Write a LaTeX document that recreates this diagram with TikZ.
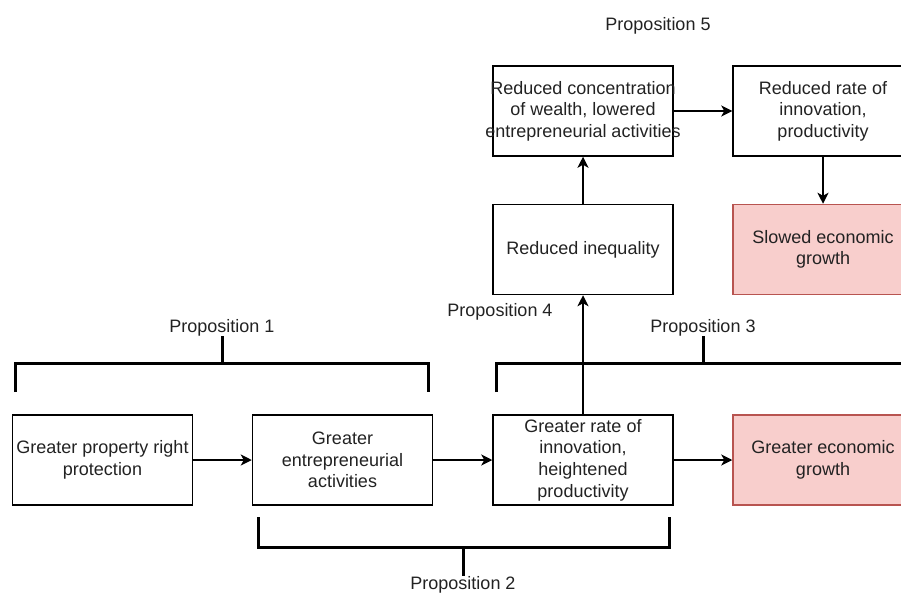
\documentclass[tikz,border=0pt]{standalone}
\usepackage{fontspec}
\setmainfont{Liberation Sans}
\usetikzlibrary{arrows.meta}
\definecolor{pinkfill}{HTML}{F8CECC}
\definecolor{pinkdraw}{HTML}{B85450}
\definecolor{txt}{HTML}{222222}
\begin{document}
\begin{tikzpicture}[x=1pt,y=-1pt,
  box/.style={draw=black,line width=1.5pt,minimum width=180pt,minimum height=90pt,inner sep=2pt,align=center,font=\fontsize{18}{21.6}\selectfont,text=txt},
  pinkbox/.style={box,draw=pinkdraw,fill=pinkfill},
  arr/.style={line width=1.5pt,-{Stealth[length=11pt,width=11pt,inset=3pt]}},
  brack/.style={line width=3pt},
  lbl/.style={font=\fontsize{18}{21.6}\selectfont,anchor=base,inner sep=0pt,text=txt}]
\useasboundingbox (0,0) rectangle (901,594);

\node[box] (gprp) at (102.5,460) {Greater property right\\protection};
\node[box] (gea) at (342.5,460) {Greater\\entrepreneurial\\activities};
\node[box] (gri) at (583,460) {Greater rate of\\innovation,\\heightened\\productivity};
\node[pinkbox] (geg) at (823,460) {Greater economic\\growth};
\node[box] (rineq) at (583,249.5) {Reduced inequality};
\node[box] (rconc) at (583,111) {\makebox[0pt]{Reduced concentration}\\\makebox[0pt]{of wealth, lowered}\\\makebox[0pt]{entrepreneurial activities}};
\node[box] (rrate) at (823,111) {Reduced rate of\\innovation,\\productivity};
\node[pinkbox] (seg) at (823,249.5) {Slowed economic\\growth};

\draw[arr] (gprp) -- (gea);
\draw[arr] (gea) -- (gri);
\draw[arr] (gri) -- (geg);
\draw[arr] (gri) -- (rineq);
\draw[arr] (rineq) -- (rconc);
\draw[arr] (rconc) -- (rrate);
\draw[arr] (rrate) -- (seg);

\node[lbl] (p1) at (222,332) {Proposition 1};
\draw[brack] (15,392) -- (15,363) -- (428,363) -- (428,392);
\draw[brack] (222,363) -- (p1.south);

\node[lbl] (p3) at (703,332) {Proposition 3};
\draw[brack] (496,392) -- (496,363) -- (915,363);
\draw[brack] (703,363) -- (p3.south);

\node[lbl] (p2) at (463,589) {Proposition 2};
\draw[brack] (258,517) -- (258,547) -- (669,547) -- (669,517);
\draw[brack] (463,547) -- (p2.north);

\node[lbl] (p4) at (500,316) {Proposition 4};
\node[lbl] (p5) at (658,31) {Proposition 5};
\end{tikzpicture}
\end{document}
